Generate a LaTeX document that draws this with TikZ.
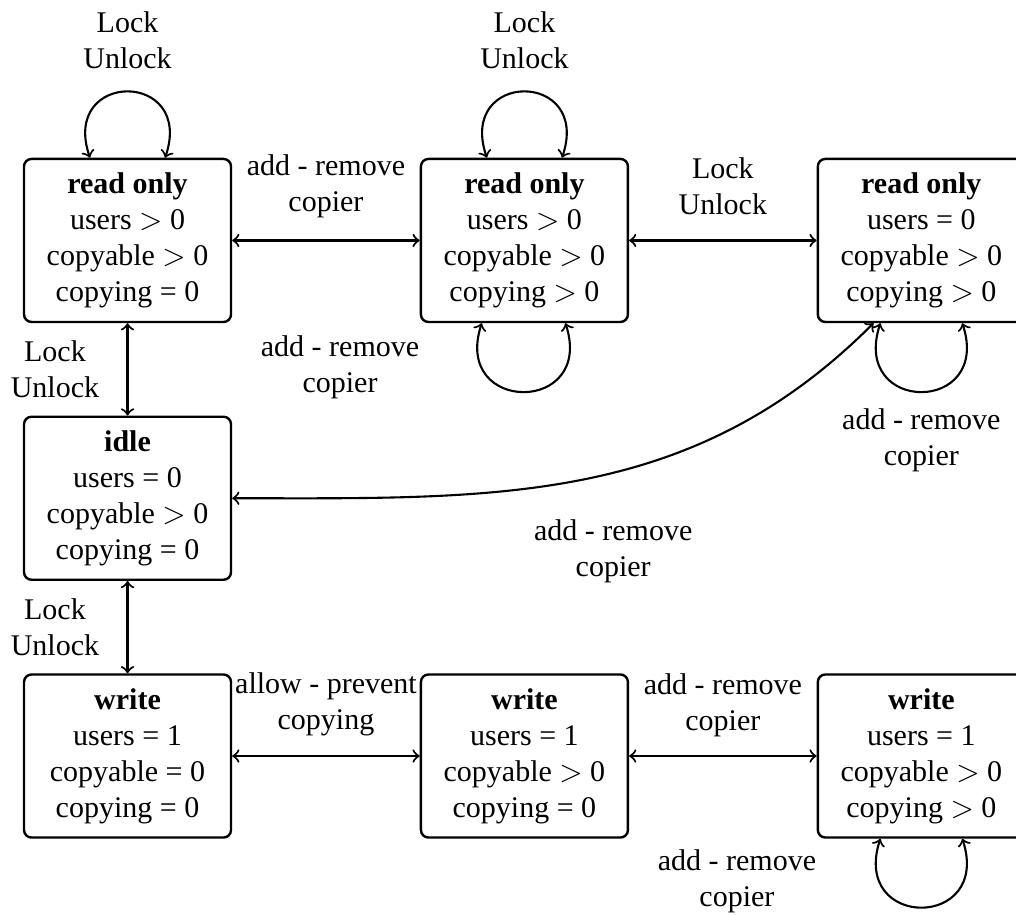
\documentclass[tikz,border=0pt]{standalone}
\usepackage{fontspec}
\setmainfont{Liberation Serif}
\usepackage{tikz}
\tikzstyle{arrow} = [line width=0.7pt,<->]

\begin{document}
\begin{tikzpicture}[
    state/.style={draw,thick,rounded corners=2.5pt,align=center,
      minimum width=2.425cm,minimum height=1.91cm},
    tlabel/.style={align=center},
  ]
  \useasboundingbox (-1.494,-7.902) rectangle (10.409,2.817);

  % states
  \node[state] (ro1) at (0,0)    {\textbf{read only}\\users $>$ 0\\copyable $>$ 0\\copying = 0};
  \node[state] (ro2) at (4.65,0) {\textbf{read only}\\users $>$ 0\\copyable $>$ 0\\copying $>$ 0};
  \node[state] (ro3) at (9.30,0) {\textbf{read only}\\users = 0\\copyable $>$ 0\\copying $>$ 0};
  \node[state] (idle) at (0,-3.02) {\textbf{idle}\\users = 0\\copyable $>$ 0\\copying = 0};
  \node[state] (wr1) at (0,-6.04)    {\textbf{write}\\users = 1\\copyable = 0\\copying = 0};
  \node[state] (wr2) at (4.65,-6.04) {\textbf{write}\\users = 1\\copyable $>$ 0\\copying = 0};
  \node[state] (wr3) at (9.30,-6.04) {\textbf{write}\\users = 1\\copyable $>$ 0\\copying $>$ 0};

  % transitions between states
  \draw[arrow] (ro1) -- node[tlabel,yshift=0.63cm] (l12) {add - remove\\copier} (ro2);
  \draw[arrow] (ro2) -- node[tlabel,yshift=0.63cm] (l23) {Lock\\Unlock} (ro3);
  \draw[arrow] (ro1) -- node[tlabel,xshift=-0.85cm] (l1i) {Lock\\Unlock} (idle);
  \draw[arrow] (idle) -- node[tlabel,xshift=-0.85cm] (liw) {Lock\\Unlock} (wr1);
  \draw[arrow] (wr1) -- node[tlabel,yshift=0.6cm] (lw12) {allow - prevent\\copying} (wr2);
  \draw[arrow] (wr2) -- node[tlabel,yshift=0.6cm] (lw23) {add - remove\\copier} (wr3);
  \draw[arrow] (idle.east) to[out=0,in=-135] ([xshift=-0.56cm]ro3.south);
  \node[tlabel] (lir) at (5.69,-3.64) {add - remove\\copier};

  % self loops
  \draw[arrow] ([xshift=-0.44cm]ro1.north) .. controls +(-0.35,1.03) and +(0.35,1.03) .. ([xshift=0.44cm]ro1.north);
  \node[tlabel] (lo1) at ([yshift=2.35cm]ro1.center) {Lock\\Unlock};
  \draw[arrow] ([xshift=-0.44cm]ro2.north) .. controls +(-0.35,1.03) and +(0.35,1.03) .. ([xshift=0.44cm]ro2.north);
  \node[tlabel] (lo2) at ([yshift=2.35cm]ro2.center) {Lock\\Unlock};
  \draw[arrow] ([xshift=-0.5cm]ro2.south) .. controls +(-0.35,-1.07) and +(0.35,-1.07) .. ([xshift=0.48cm]ro2.south);
  \node[tlabel] (lo2b) at ([xshift=-2.16cm,yshift=-1.48cm]ro2.center) {add - remove\\copier};
  \draw[arrow] ([xshift=-0.48cm]ro3.south) .. controls +(-0.35,-1.07) and +(0.35,-1.07) .. ([xshift=0.48cm]ro3.south);
  \node[tlabel] (lo3) at ([yshift=-2.34cm]ro3.center) {add - remove\\copier};
  \draw[arrow] ([xshift=-0.48cm]wr3.south) .. controls +(-0.35,-1.07) and +(0.35,-1.07) .. ([xshift=0.48cm]wr3.south);
  \node[tlabel] (lw3) at ([xshift=-2.16cm,yshift=-1.47cm]wr3.center) {add - remove\\copier};
\end{tikzpicture}
\end{document}
